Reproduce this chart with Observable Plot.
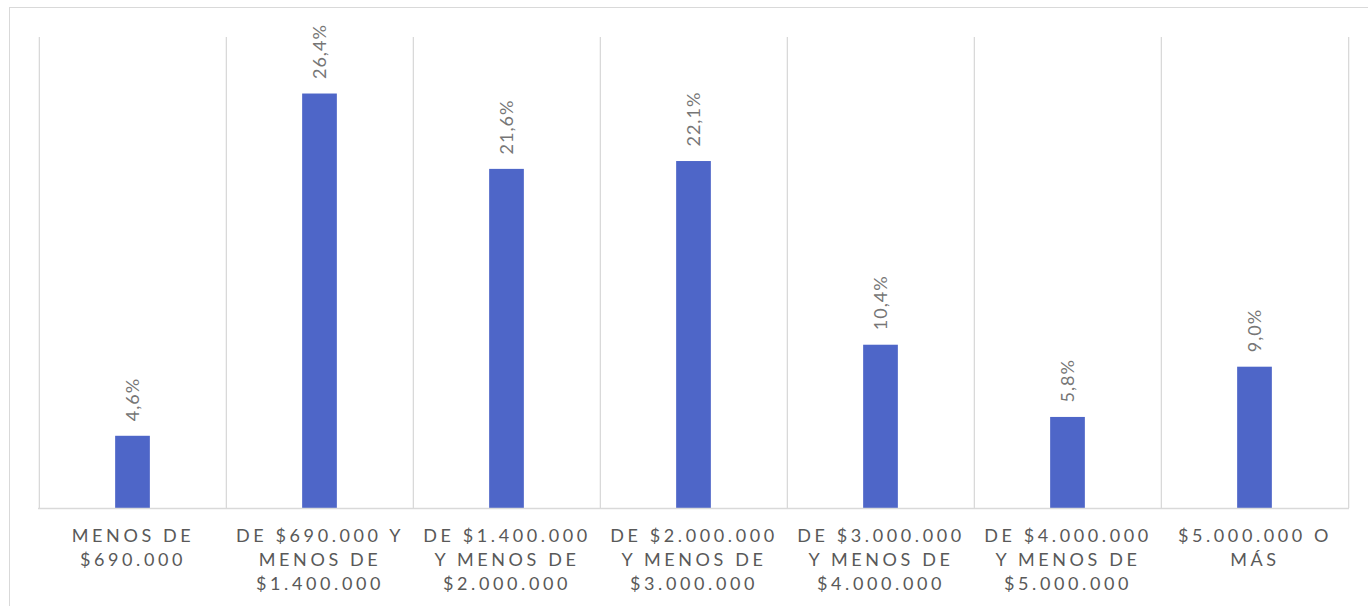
<!DOCTYPE html>
<html>
<head>
<meta charset="utf-8">
<script src="https://cdn.jsdelivr.net/npm/d3@7"></script>
<script src="https://cdn.jsdelivr.net/npm/@observablehq/plot@0.6"></script>
<style>
  html, body { margin: 0; padding: 0; background: #fff; }
  #wrap { position: relative; width: 1368px; height: 606px; overflow: hidden; }
  #frame { position: absolute; left: 9px; top: 7px; width: 1380px; height: 620px; border: 1px solid #d9d9d9; box-sizing: border-box; pointer-events: none; }
  #chart { position: absolute; left: 0; top: 0; }
  g[aria-label="x-axis tick label"] text { letter-spacing: 3.6px; }
  g.vlabels text { letter-spacing: 1px; }
</style>
</head>
<body>
<div id="wrap"><div id="chart"></div><div id="frame"></div></div>
<script>
const categories = [
  "MENOS DE\n$690.000",
  "DE $690.000 Y\nMENOS DE\n$1.400.000",
  "DE $1.400.000\nY MENOS DE\n$2.000.000",
  "DE $2.000.000\nY MENOS DE\n$3.000.000",
  "DE $3.000.000\nY MENOS DE\n$4.000.000",
  "DE $4.000.000\nY MENOS DE\n$5.000.000",
  "$5.000.000 O\nMÁS"
];
const values = [4.6, 26.4, 21.6, 22.1, 10.4, 5.8, 9.0];
const valueLabels = ["4,6%", "26,4%", "21,6%", "22,1%", "10,4%", "5,8%", "9,0%"];

const data = categories.map((c, i) => ({cat: c, value: values[i], label: valueLabels[i]}));

const W = 1368, H = 606;
const mL = 38, mR = 19, mT = 37, mB = 98;
const bw = (W - mL - mR) / categories.length;
const barW = 35;
const grid = "#d9d9d9";

const plot = Plot.plot({
  width: W,
  height: H,
  marginLeft: mL,
  marginRight: mR,
  marginTop: mT,
  marginBottom: mB,
  style: {fontFamily: "Lato, 'Open Sans', sans-serif", color: "#595959", background: "transparent"},
  x: {type: "band", domain: categories, padding: 0},
  y: {domain: [0, 30], axis: null},
  marks: [
    Plot.ruleX(categories, {x: d => d, dx: -bw / 2, y1: 0, y2: 30, stroke: grid, strokeWidth: 1.3}),
    Plot.ruleX([categories[categories.length - 1]], {x: d => d, dx: bw / 2, y1: 0, y2: 30, stroke: grid, strokeWidth: 1.3}),
    Plot.barY(data, {x: "cat", y: "value", fill: "#4e66c8", insetLeft: (bw - barW) / 2, insetRight: (bw - barW) / 2}),
    Plot.ruleY([0], {stroke: grid, strokeWidth: 1.5}),
    Plot.text(data, {x: "cat", y: "value", text: "label", rotate: -90, textAnchor: "start", dy: -15, fontSize: 18, fill: "#767676", className: "vlabels"}),
    Plot.axisX({tickSize: 0, tickPadding: 17, fontSize: 18, lineHeight: 1.32, fill: "#595959", label: null})
  ]
});
document.getElementById("chart").appendChild(plot);
</script>
</body>
</html>
